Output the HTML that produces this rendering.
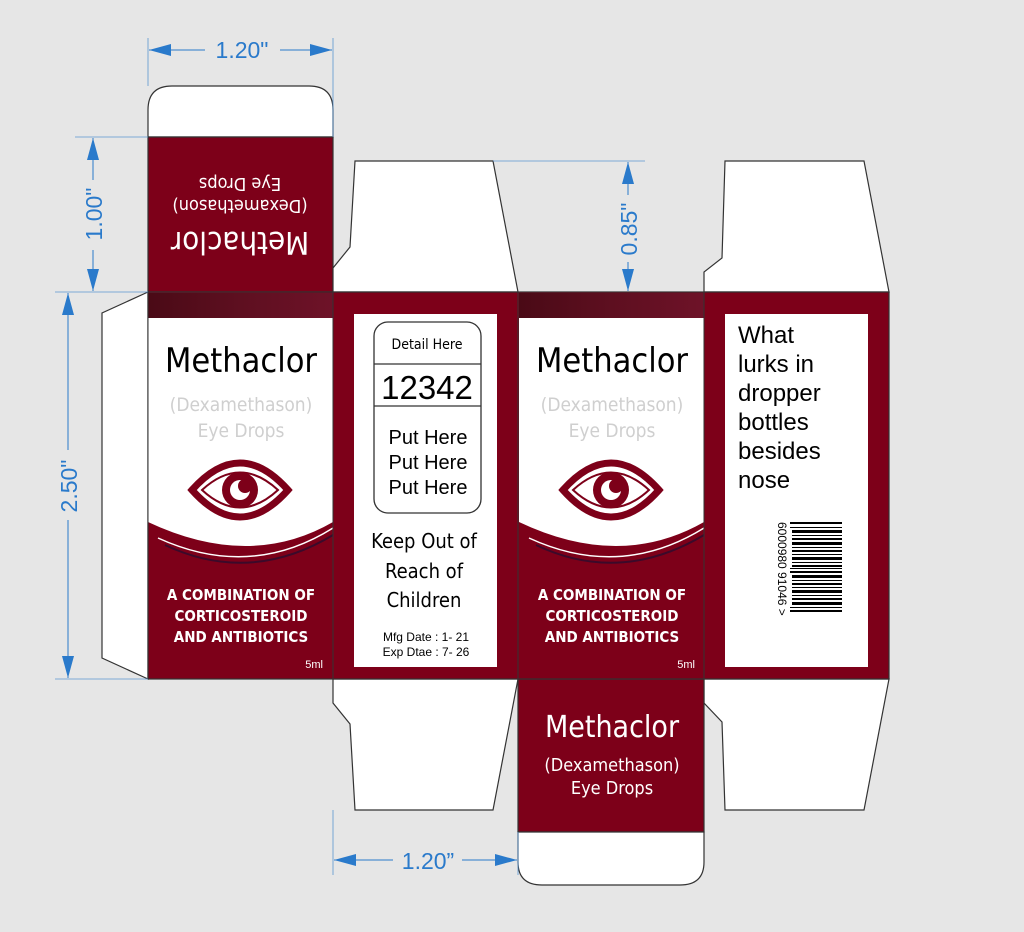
<!DOCTYPE html>
<html><head><meta charset="utf-8"><style>
html,body{margin:0;padding:0;background:#e6e6e6;}
svg{display:block;}
svg{font-family:"DejaVu Sans","Liberation Sans",sans-serif;}
.c,.c text{font-family:"DejaVu Sans Condensed","DejaVu Sans",sans-serif;}
.a,.a text{font-family:"Liberation Sans",sans-serif;}
.b,.b text{font-family:"DejaVu Sans Condensed","Liberation Sans",sans-serif;font-weight:bold;}
</style></head><body>
<svg width="1024" height="932" viewBox="0 0 1024 932" xmlns="http://www.w3.org/2000/svg">
<defs>
<linearGradient id="g" x1="0" x2="1"><stop offset="0" stop-color="#4a0a16"/><stop offset="0.5" stop-color="#5e0f20"/><stop offset="1" stop-color="#6e1228"/></linearGradient>
<marker id="ar" viewBox="0 0 10 10" refX="10" refY="5" markerWidth="22" markerHeight="12" orient="auto-start-reverse" markerUnits="userSpaceOnUse" preserveAspectRatio="none"><path d="M0,0L10,5L0,10z" fill="#2a7acb"/></marker>
</defs>
<rect width="1024" height="932" fill="#e6e6e6"/>
<g stroke="#333" stroke-width="1.2">
<path d="M148,137 L148,110 Q148,86 172,86 L309,86 Q333,86 333,110 L333,137 Z" fill="#fff"/>
<rect x="148" y="137" width="185" height="155" fill="#7d0019"/>
<path d="M148,292 L102,313 L102,658 L148,679 Z" fill="#fff"/>
<path d="M333,292 L333,268 L350,247 L355,161 L493,161 L518,292 Z" fill="#fff"/>
<path d="M333,679 L333,703 L350,724 L355,810 L493,810 L518,679 Z" fill="#fff"/>
<path d="M704,292 L704,272 L722,258 L725,161 L864,161 L889,292 Z" fill="#fff"/>
<path d="M704,679 L704,703 L722,722 L725,810 L864,810 L889,679 Z" fill="#fff"/>
<rect x="518" y="679" width="186" height="153" fill="#7d0019"/>
<path d="M518,832 L704,832 L704,862 Q704,885 680,885 L542,885 Q518,885 518,862 Z" fill="#fff"/>
<rect x="148" y="292" width="741" height="387" fill="#7d0019"/>
</g>
<rect x="148" y="293" width="185" height="25" fill="url(#g)"/>
<path d="M148,318 L333,318 L333,522 Q250,570 148,522 Z" fill="#fff"/>
<path d="M158,538 Q250,580 333,528" fill="none" stroke="#fff" stroke-width="1.5"/>
<path d="M165,545 Q250,585 333,535" fill="none" stroke="#3b0a2a" stroke-width="2"/>
<rect x="519" y="293" width="185" height="25" fill="url(#g)"/>
<path d="M519,318 L704,318 L704,522 Q620,570 519,522 Z" fill="#fff"/>
<path d="M529,538 Q620,580 704,528" fill="none" stroke="#fff" stroke-width="1.5"/>
<path d="M536,545 Q620,585 704,535" fill="none" stroke="#3b0a2a" stroke-width="2"/>
<g stroke="#333" stroke-width="1" fill="none">
<line x1="333" y1="292" x2="333" y2="679"/><line x1="518" y1="292" x2="518" y2="679"/><line x1="704" y1="292" x2="704" y2="679"/>
<rect x="148" y="292" width="741" height="387"/>
</g>
<rect x="354" y="314" width="143" height="353" fill="#fff"/>
<rect x="374" y="322" width="107" height="191" rx="14" fill="#fff" stroke="#333" stroke-width="1.3"/>
<line x1="374" y1="364" x2="481" y2="364" stroke="#333" stroke-width="1.3"/>
<line x1="374" y1="406" x2="481" y2="406" stroke="#333" stroke-width="1.3"/>
<text x="427" y="349" font-size="14" text-anchor="middle" class="c">Detail Here</text>
<text x="427" y="399" font-size="33" text-anchor="middle" class="a">12342</text>
<g class="a" font-size="20" text-anchor="middle"><text x="428" y="444">Put Here</text><text x="428" y="469">Put Here</text><text x="428" y="494">Put Here</text></g>
<g font-size="20" text-anchor="middle" class="c"><text x="424" y="548">Keep Out of</text><text x="424" y="578">Reach of</text><text x="424" y="607">Children</text></g>
<g font-size="12" text-anchor="middle" class="a"><text x="426" y="641">Mfg Date : 1- 21</text><text x="426" y="656">Exp Dtae : 7- 26</text></g>
<rect x="725" y="314" width="143" height="353" fill="#fff"/>
<g class="a" font-size="24"><text x="738" y="343">What</text><text x="738" y="372">lurks in</text><text x="738" y="401">dropper</text><text x="738" y="430">bottles</text><text x="738" y="459">besides</text><text x="738" y="488">nose</text></g>
<g fill="#000">
<rect x="790" y="522" width="52" height="2"/><rect x="790" y="527" width="52" height="1"/><rect x="792" y="530" width="50" height="3"/><rect x="792" y="535" width="50" height="1"/><rect x="792" y="538" width="50" height="2"/><rect x="792" y="542" width="50" height="3"/><rect x="792" y="547" width="50" height="1"/><rect x="792" y="550" width="50" height="2"/><rect x="792" y="554" width="50" height="1"/><rect x="792" y="557" width="50" height="3"/><rect x="792" y="562" width="50" height="1"/><rect x="792" y="565" width="50" height="2"/><rect x="790" y="568" width="52" height="1"/><rect x="790" y="571" width="52" height="2"/><rect x="792" y="575" width="50" height="3"/><rect x="792" y="580" width="50" height="1"/><rect x="792" y="583" width="50" height="2"/><rect x="792" y="587" width="50" height="1"/><rect x="792" y="590" width="50" height="3"/><rect x="792" y="595" width="50" height="1"/><rect x="792" y="598" width="50" height="2"/><rect x="792" y="602" width="50" height="3"/><rect x="790" y="607" width="52" height="1"/><rect x="790" y="610" width="52" height="2"/>
</g>
<text transform="translate(778,522) rotate(90)" font-size="12" class="a">6000980 91046 &gt;</text>
<g text-anchor="middle">
<text x="241" y="372" font-size="34" class="c">Methaclor</text>
<text x="241" y="411" font-size="19" fill="#cfcfcf" class="c">(Dexamethason)</text>
<text x="241" y="437" font-size="19" fill="#cfcfcf" class="c">Eye Drops</text>
<g class="b" fill="#fff" font-size="15"><text x="241" y="600">A COMBINATION OF</text><text x="241" y="621">CORTICOSTEROID</text><text x="241" y="642">AND ANTIBIOTICS</text></g>
<text x="612" y="372" font-size="34" class="c">Methaclor</text>
<text x="612" y="411" font-size="19" fill="#cfcfcf" class="c">(Dexamethason)</text>
<text x="612" y="437" font-size="19" fill="#cfcfcf" class="c">Eye Drops</text>
<g class="b" fill="#fff" font-size="15"><text x="612" y="600">A COMBINATION OF</text><text x="612" y="621">CORTICOSTEROID</text><text x="612" y="642">AND ANTIBIOTICS</text></g>
<text x="612" y="737" font-size="30" fill="#fff" class="c">Methaclor</text>
<text x="612" y="771" font-size="18" fill="#fff" class="c">(Dexamethason)</text>
<text x="612" y="794" font-size="18" fill="#fff" class="c">Eye Drops</text>
<g transform="rotate(180 240.5 214.5)" fill="#fff">
<text x="241" y="197" font-size="31" class="c">Methaclor</text>
<text x="241" y="229" font-size="18" class="c">(Dexamethason)</text>
<text x="241" y="251" font-size="18" class="c">Eye Drops</text>
</g>
</g>
<text x="323" y="668" font-size="11" fill="#fff" text-anchor="end" class="a">5ml</text>
<text x="695" y="668" font-size="11" fill="#fff" text-anchor="end" class="a">5ml</text>
<g id="eye" fill="none" stroke="#7d0019">
<path d="M192,490 Q240,436 288,490 Q240,544 192,490 Z" stroke-width="7"/>
<path d="M202,490 Q240,455 278,490 Q240,525 202,490 Z" stroke-width="2"/>
<circle cx="240" cy="490" r="18" fill="#7d0019" stroke="none"/>
<circle cx="240" cy="490" r="10" fill="#fff" stroke="none"/>
<circle cx="245" cy="486" r="7" fill="#7d0019" stroke="none"/>
</g>
<use href="#eye" x="371"/>
<g stroke="#5a95d0" stroke-width="0.8">
<line x1="148" y1="38" x2="148" y2="86"/><line x1="333" y1="38" x2="333" y2="137"/>
<line x1="75" y1="137" x2="148" y2="137"/><line x1="55" y1="292" x2="148" y2="292"/><line x1="55" y1="679" x2="148" y2="679"/>
<line x1="493" y1="161" x2="645" y2="161"/>
<line x1="333" y1="810" x2="333" y2="875"/><line x1="518" y1="832" x2="518" y2="875"/>
</g>
<g stroke="#2a7acb" stroke-width="1">
<line x1="149" y1="50" x2="205" y2="50" marker-start="url(#ar)"/><line x1="280" y1="50" x2="332" y2="50" marker-end="url(#ar)"/>
<line x1="93" y1="138" x2="93" y2="180" marker-start="url(#ar)"/><line x1="93" y1="250" x2="93" y2="291" marker-end="url(#ar)"/>
<line x1="68" y1="293" x2="68" y2="450" marker-start="url(#ar)"/><line x1="68" y1="520" x2="68" y2="678" marker-end="url(#ar)"/>
<line x1="628" y1="162" x2="628" y2="195" marker-start="url(#ar)"/><line x1="628" y1="262" x2="628" y2="291" marker-end="url(#ar)"/>
<line x1="334" y1="860" x2="393" y2="860" marker-start="url(#ar)"/><line x1="462" y1="860" x2="517" y2="860" marker-end="url(#ar)"/>
</g>
<g fill="#2a7acb" class="a" font-size="23" text-anchor="middle">
<text x="242" y="58">1.20"</text>
<text transform="translate(102,214) rotate(-90)">1.00"</text>
<text transform="translate(77,486) rotate(-90)">2.50"</text>
<text transform="translate(637,229) rotate(-90)">0.85"</text>
<text x="428" y="869">1.20”</text>
</g>
</svg>
</body></html>
